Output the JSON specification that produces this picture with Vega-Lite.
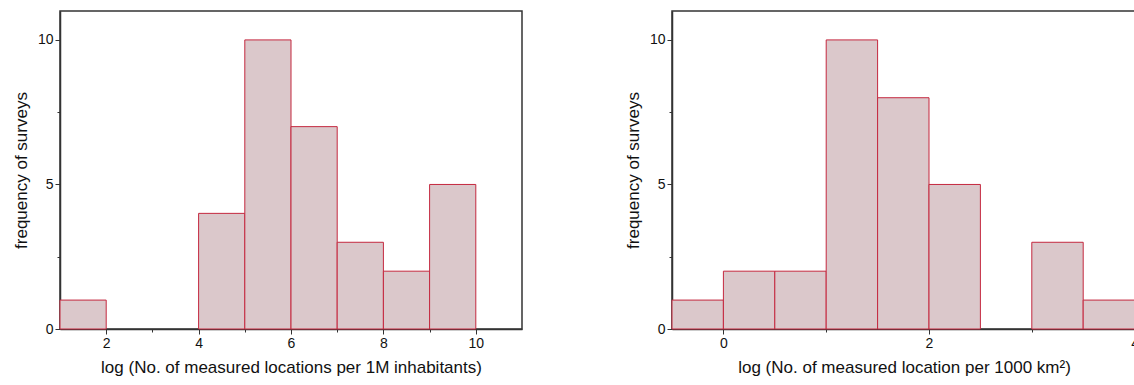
{
  "$schema": "https://vega.github.io/schema/vega-lite/v6.json",
  "padding": {"left": 11, "top": 10, "right": 0, "bottom": 0},
  "background": "white",
  "spacing": 100,
  "config": {
    "font": "Liberation Sans",
    "view": {"stroke": "#333333", "strokeWidth": 1.5},
    "axis": {
      "labelFont": "Liberation Sans",
      "titleFont": "Liberation Sans",
      "labelFontSize": 14,
      "titleFontSize": 17,
      "titleFontWeight": "normal",
      "labelColor": "#111111",
      "titleColor": "#111111",
      "domainColor": "#333333",
      "domainWidth": 1.5,
      "tickColor": "#333333",
      "tickWidth": 1,
      "grid": false,
      "labelPadding": 2
    }
  },
  "hconcat": [
    {
      "width": 462,
      "height": 318,
      "data": {"values": [
        {"a": 1, "b": 2, "n": 1},
        {"a": 4, "b": 5, "n": 4},
        {"a": 5, "b": 6, "n": 10},
        {"a": 6, "b": 7, "n": 7},
        {"a": 7, "b": 8, "n": 3},
        {"a": 8, "b": 9, "n": 2},
        {"a": 9, "b": 10, "n": 5}
      ]},
      "mark": {"type": "bar", "fill": "#dbc8cb", "stroke": "#c4283f", "strokeWidth": 1},
      "encoding": {
        "x": {"field": "a", "type": "quantitative",
          "scale": {"domain": [1, 11], "nice": false, "zero": false},
          "axis": {"title": "log (No. of measured locations per 1M inhabitants)",
            "values": [2, 3, 4, 5, 6, 7, 8, 9, 10],
            "labelExpr": "datum.value % 2 == 0 ? datum.label : ''",
            "tickSize": {"condition": {"test": "datum.value % 2 == 0", "value": 5}, "value": 3},
            "titlePadding": 9}},
        "x2": {"field": "b"},
        "y": {"field": "n", "type": "quantitative",
          "scale": {"domain": [0, 11], "nice": false},
          "axis": {"title": "frequency of surveys",
            "values": [0, 2.5, 5, 7.5, 10],
            "labelExpr": "datum.value % 5 == 0 ? datum.label : ''",
            "tickSize": {"condition": {"test": "datum.value % 5 == 0", "value": 5}, "value": 3},
            "titlePadding": 7}},
        "y2": {"datum": 0}
      }
    },
    {
      "width": 514,
      "height": 318,
      "data": {"values": [
        {"a": -0.5, "b": 0, "n": 1},
        {"a": 0, "b": 0.5, "n": 2},
        {"a": 0.5, "b": 1, "n": 2},
        {"a": 1, "b": 1.5, "n": 10},
        {"a": 1.5, "b": 2, "n": 8},
        {"a": 2, "b": 2.5, "n": 5},
        {"a": 3, "b": 3.5, "n": 3},
        {"a": 3.5, "b": 4, "n": 1}
      ]},
      "mark": {"type": "bar", "fill": "#dbc8cb", "stroke": "#c4283f", "strokeWidth": 1},
      "encoding": {
        "x": {"field": "a", "type": "quantitative",
          "scale": {"domain": [-0.5, 4.5], "nice": false, "zero": false},
          "axis": {"title": "log (No. of measured location per 1000 km²)",
            "values": [0, 1, 2, 3, 4],
            "labelExpr": "datum.value % 2 == 0 ? datum.label : ''",
            "tickSize": {"condition": {"test": "datum.value % 2 == 0", "value": 5}, "value": 3},
            "titlePadding": 9,
            "titleX": 232}},
        "x2": {"field": "b"},
        "y": {"field": "n", "type": "quantitative",
          "scale": {"domain": [0, 11], "nice": false},
          "axis": {"title": "frequency of surveys",
            "values": [0, 2.5, 5, 7.5, 10],
            "labelExpr": "datum.value % 5 == 0 ? datum.label : ''",
            "tickSize": {"condition": {"test": "datum.value % 5 == 0", "value": 5}, "value": 3},
            "titlePadding": 7}},
        "y2": {"datum": 0}
      }
    }
  ]
}
